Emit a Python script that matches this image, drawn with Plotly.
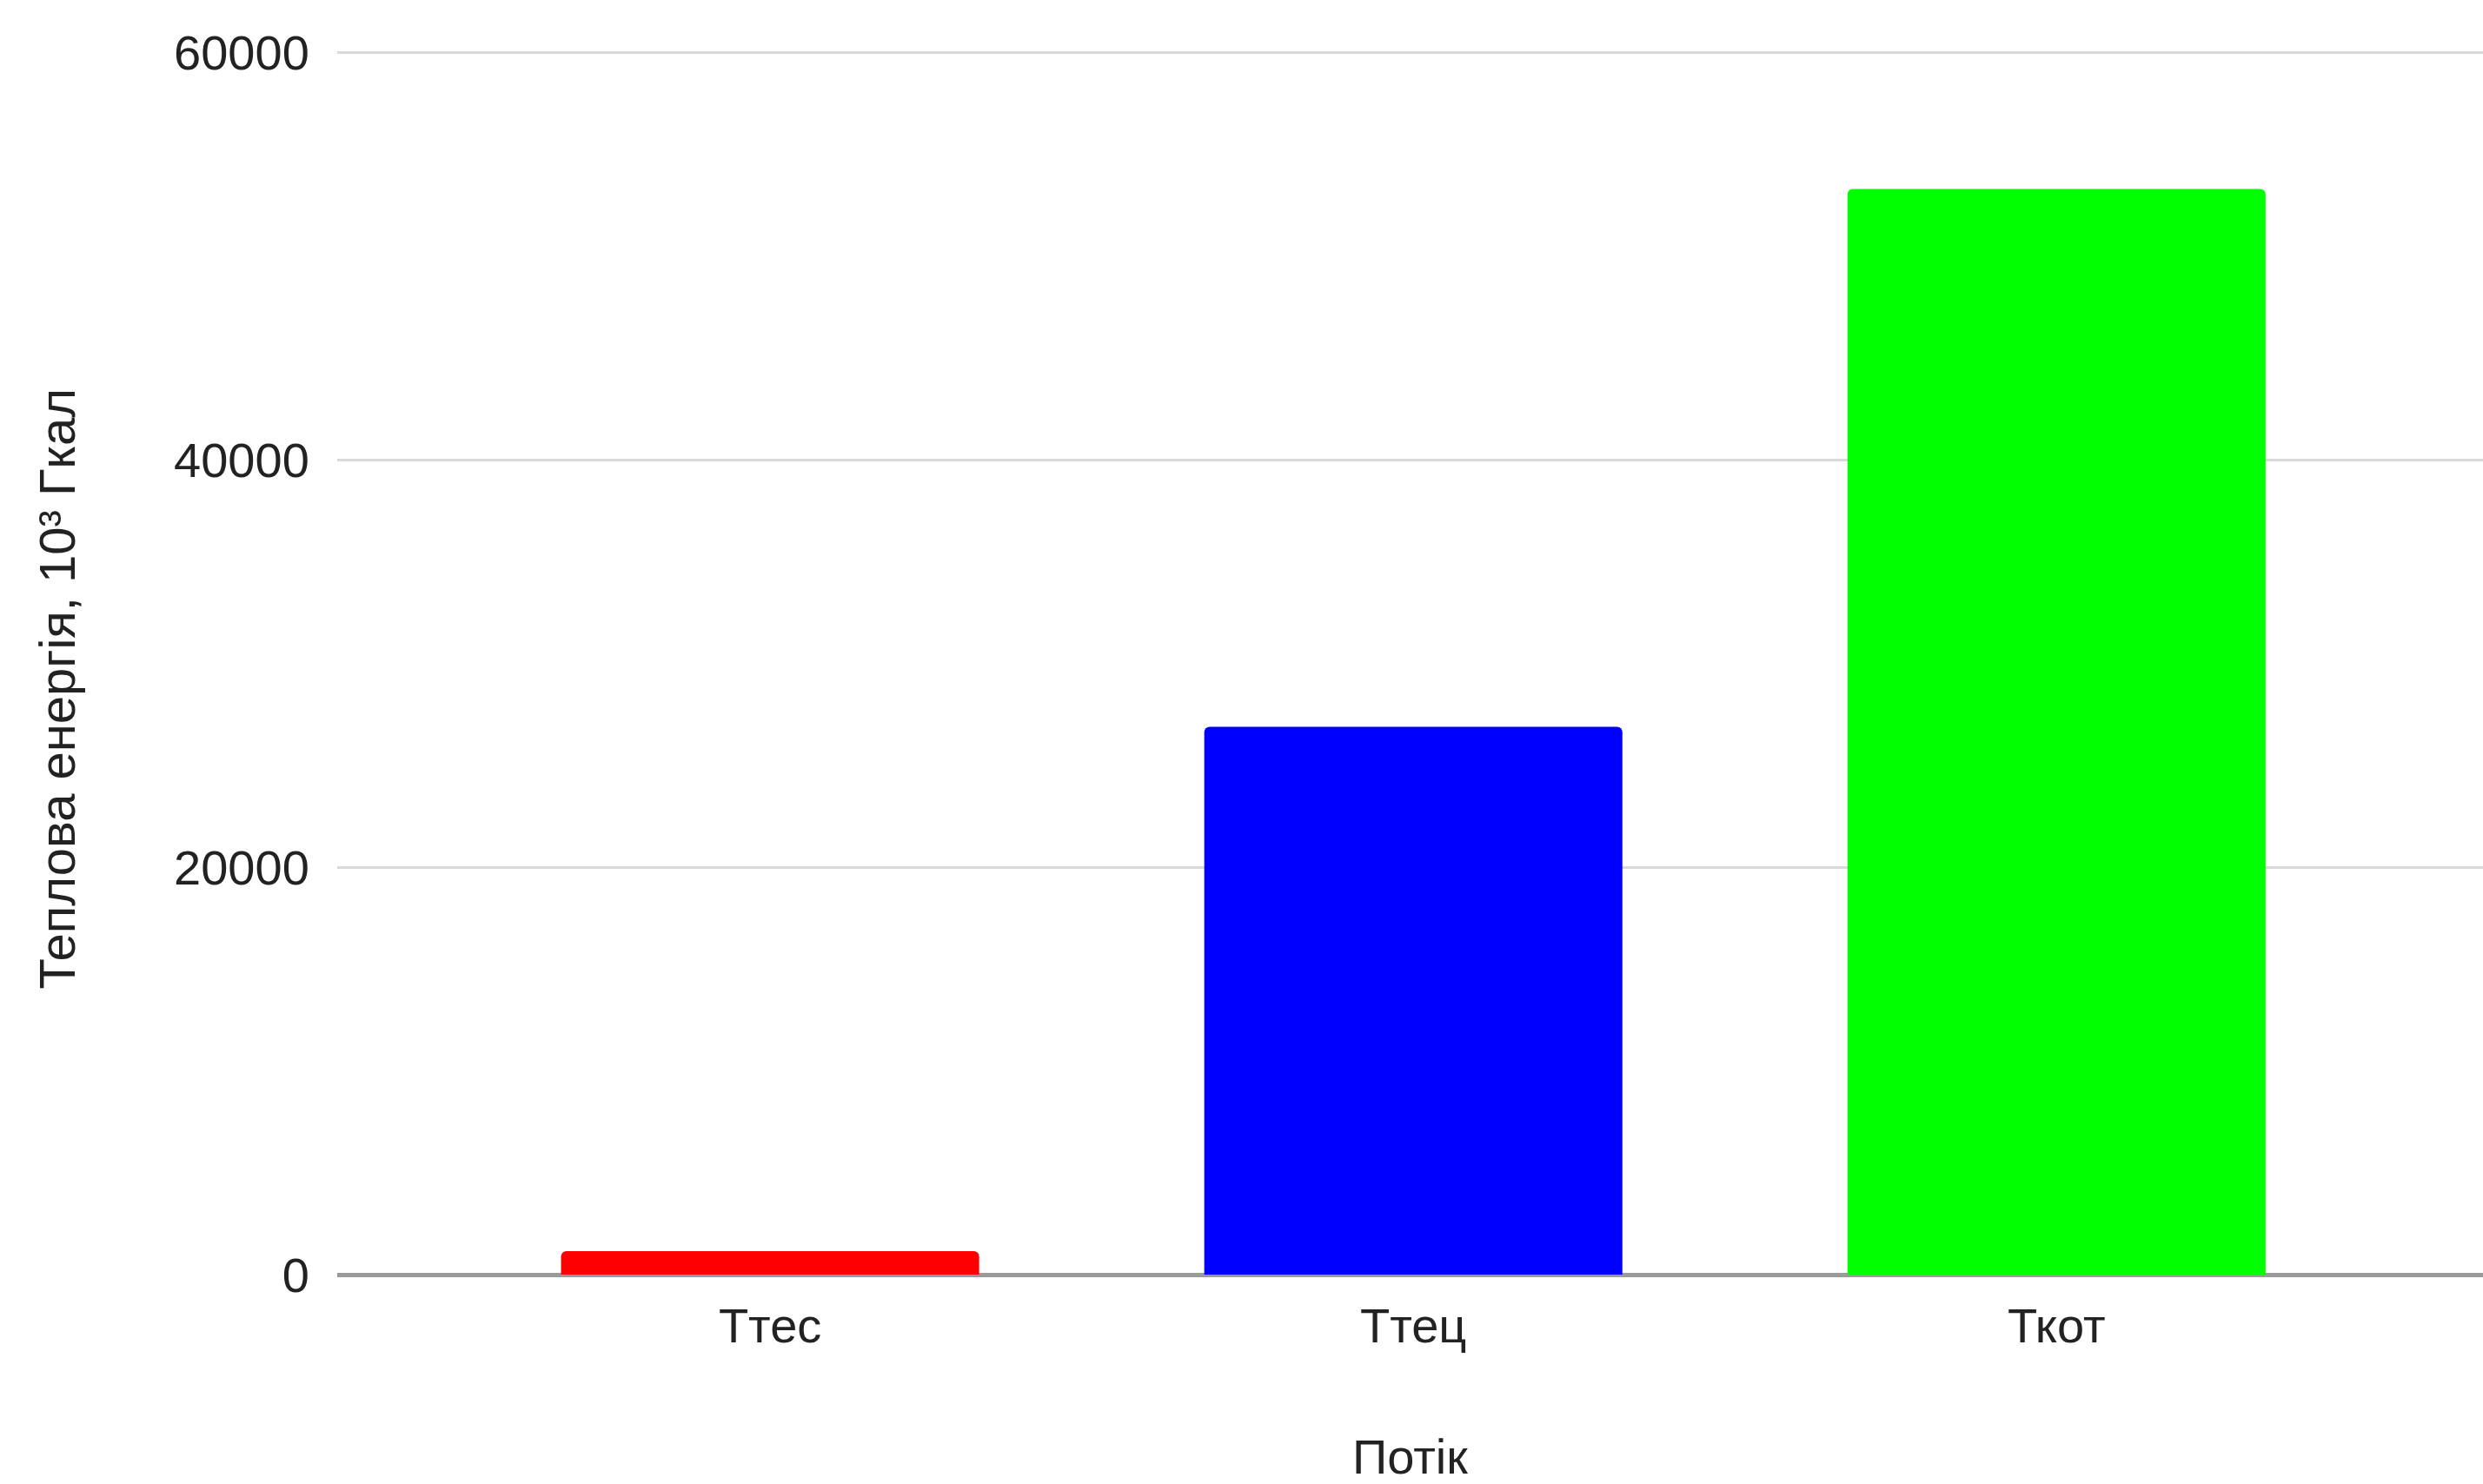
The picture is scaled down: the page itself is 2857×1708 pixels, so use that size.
import plotly.graph_objects as go

# Heat energy by flow, 10^3 Gcal
categories = ["Ттес", "Ттец", "Ткот"]
values = [1150, 26900, 53300]
colors = ["#ff0000", "#0000ff", "#00ff00"]
y_ticks = [0, 20000, 40000, 60000]

positions = list(range(len(categories)))

fig = go.Figure(
    go.Bar(
        x=positions,
        y=values,
        width=0.65,
        marker=dict(color=colors, line=dict(width=0), cornerradius=6),
        showlegend=False,
    )
)

font_family = "Liberation Sans, Arial, sans-serif"
text_color = "#222222"

fig.update_layout(
    width=2857,
    height=1708,
    margin=dict(l=388, r=0, t=37, b=241),
    paper_bgcolor="white",
    plot_bgcolor="white",
    font=dict(family=font_family, size=56, color=text_color),
    xaxis=dict(
        range=[-0.673, 2.663],
        tickvals=positions,
        ticktext=categories,
        showgrid=False,
        zeroline=False,
        showline=False,
        ticks="outside",
        ticklen=10,
        tickcolor="rgba(0,0,0,0)",
        tickfont=dict(size=56, color=text_color),
    ),
    yaxis=dict(
        range=[0, 61000],
        tickvals=y_ticks,
        ticktext=[str(v) for v in y_ticks],
        showgrid=True,
        gridcolor="#d9d9d9",
        gridwidth=3,
        zeroline=True,
        zerolinecolor="#9a9a9a",
        zerolinewidth=5,
        showline=False,
        ticks="outside",
        ticklen=20,
        tickcolor="rgba(0,0,0,0)",
        tickfont=dict(size=56, color=text_color),
    ),
    annotations=[
        dict(
            text="Теплова енергія, 10³ Гкал",
            xref="paper", yref="paper",
            x=-0.131, y=0.4713,
            xanchor="center", yanchor="middle",
            textangle=-90,
            showarrow=False,
            font=dict(size=58, color=text_color),
        ),
        dict(
            text="Потік",
            xref="paper", yref="paper",
            x=0.5, y=-0.1462,
            xanchor="center", yanchor="middle",
            showarrow=False,
            font=dict(size=56, color=text_color),
        ),
    ],
)

fig.write_html("out.html")
